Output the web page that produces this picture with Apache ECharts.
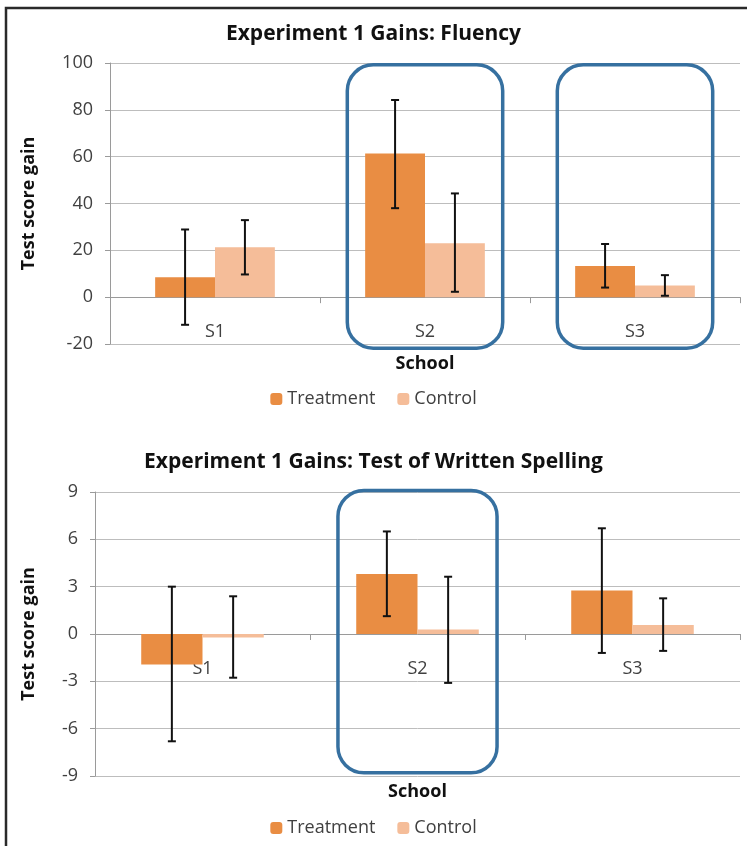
<!DOCTYPE html>
<html><head><meta charset="utf-8">
<script src="https://cdn.jsdelivr.net/npm/echarts@6/dist/echarts.min.js"></script>
<style>html,body{margin:0;padding:0;background:#fff}#c{width:747px;height:846px}</style>
</head><body><div id="c"></div>
<script>
const schools = ['S1', 'S2', 'S3'];
const fluencyTreatment = [8.5, 61.4, 13.3];
const fluencyControl = [21.3, 23.0, 5.0];
const fluencyTreatmentErr = [[-11.8, 28.9], [38.0, 84.2], [4.1, 22.7]];
const fluencyControlErr = [[9.7, 32.9], [2.3, 44.3], [0.6, 9.4]];
const spellingTreatment = [-1.93, 3.8, 2.75];
const spellingControl = [-0.22, 0.28, 0.57];
const spellingTreatmentErr = [[-6.8, 3.0], [1.13, 6.5], [-1.2, 6.7]];
const spellingControlErr = [[-2.77, 2.39], [-3.1, 3.63], [-1.07, 2.26]];
const fluencyTicks = [-20, 0, 20, 40, 60, 80, 100];
const spellingTicks = [-9, -6, -3, 0, 3, 6, 9];

const cTreat = '#E98D43', cCtrl = '#F5BD99';
const FONT = 'Open Sans';
const GAP = 0.43;

function errSeries(name, data, xi, side) {
  return {
    type: 'custom', name: name, xAxisIndex: xi, yAxisIndex: xi, z: 5,
    data: data.map((d, i) => [i, d[0], d[1]]),
    renderItem: function (params, api) {
      const band = api.size([1, 0])[0];
      const off = side * band * (1 - GAP) / 4;
      const lo = api.coord([api.value(0), api.value(1)]);
      const hi = api.coord([api.value(0), api.value(2)]);
      const x = lo[0] + off, cap = 4;
      const st = { stroke: '#111', lineWidth: 2 };
      return { type: 'group', children: [
        { type: 'line', shape: { x1: x, y1: lo[1], x2: x, y2: hi[1] }, style: st },
        { type: 'line', shape: { x1: x - cap, y1: lo[1], x2: x + cap, y2: lo[1] }, style: st },
        { type: 'line', shape: { x1: x - cap, y1: hi[1], x2: x + cap, y2: hi[1] }, style: st }
      ] };
    }
  };
}

function xAx(gi, gap) {
  return {
    type: 'category', gridIndex: gi, data: schools,
    name: 'School', nameLocation: 'middle', nameGap: gap, nameMoveOverlap: false,
    nameTextStyle: { fontFamily: FONT, fontWeight: 'bold', fontSize: 18, color: '#111' },
    axisLine: { onZero: true, lineStyle: { color: '#9a9a9a', width: 1 } },
    axisTick: { show: true, length: 6, lineStyle: { color: '#9a9a9a' } },
    axisLabel: { margin: 26, fontFamily: FONT, fontSize: 18, color: '#404040' },
    splitLine: { show: false }
  };
}
function yAx(gi, ticks, gap) {
  const step = ticks[1] - ticks[0];
  return {
    type: 'value', gridIndex: gi, min: ticks[0], max: ticks[ticks.length - 1], interval: step,
    name: 'Test score gain', nameLocation: 'middle', nameGap: gap, nameRotate: 90, nameMoveOverlap: false,
    nameTextStyle: { fontFamily: FONT, fontWeight: 'bold', fontSize: 18, color: '#111' },
    axisLine: { show: true, lineStyle: { color: '#9a9a9a' } },
    axisTick: { show: true, length: 5, lineStyle: { color: '#9a9a9a' } },
    axisLabel: { margin: 17, fontFamily: FONT, fontSize: 18, color: '#404040' },
    splitLine: { lineStyle: { color: '#bdbdbd', width: 1 } }
  };
}

const chart = echarts.init(document.getElementById('c'));
chart.setOption({
  animation: false,
  backgroundColor: '#fff',
  title: [
    { text: 'Experiment 1 Gains: Fluency', left: 'center', top: 19,
      textStyle: { fontFamily: FONT, fontWeight: 'bold', fontSize: 21, color: '#111' } },
    { text: 'Experiment 1 Gains: Test of Written Spelling', left: 'center', top: 447,
      textStyle: { fontFamily: FONT, fontWeight: 'bold', fontSize: 21, color: '#111' } }
  ],
  legend: [
    { top: 385, left: 'center', itemWidth: 12, itemHeight: 12, itemGap: 22, data: ['Treatment', 'Control'],
      textStyle: { fontFamily: FONT, fontSize: 18, color: '#404040' } },
    { top: 814, left: 'center', itemWidth: 12, itemHeight: 12, itemGap: 22, data: ['Treatment', 'Control'],
      textStyle: { fontFamily: FONT, fontSize: 18, color: '#404040' } }
  ],
  grid: [
    { left: 110, right: 7, top: 63, height: 281, outerBoundsMode: 'none', containLabel: false },
    { left: 95, right: 7, top: 492, height: 284, outerBoundsMode: 'none', containLabel: false }
  ],
  xAxis: [xAx(0, 11), xAx(1, 7)],
  yAxis: [yAx(0, fluencyTicks, 72), yAx(1, spellingTicks, 57)],
  series: [
    { type: 'bar', name: 'Treatment', xAxisIndex: 0, yAxisIndex: 0, data: fluencyTreatment,
      itemStyle: { color: cTreat }, barGap: '0%', barCategoryGap: (GAP * 100) + '%' },
    { type: 'bar', name: 'Control', xAxisIndex: 0, yAxisIndex: 0, data: fluencyControl,
      itemStyle: { color: cCtrl }, barGap: '0%', barCategoryGap: (GAP * 100) + '%' },
    { type: 'bar', name: 'Treatment', xAxisIndex: 1, yAxisIndex: 1, data: spellingTreatment,
      itemStyle: { color: cTreat }, barGap: '0%', barCategoryGap: (GAP * 100) + '%' },
    { type: 'bar', name: 'Control', xAxisIndex: 1, yAxisIndex: 1, data: spellingControl,
      itemStyle: { color: cCtrl }, barGap: '0%', barCategoryGap: (GAP * 100) + '%' },
    errSeries('errFT', fluencyTreatmentErr, 0, -1),
    errSeries('errFC', fluencyControlErr, 0, 1),
    errSeries('errST', spellingTreatmentErr, 1, -1),
    errSeries('errSC', spellingControlErr, 1, 1)
  ]
});

// category labels sit just below the zero line (like the original)
const tickSets = [fluencyTicks, spellingTicks];
const xUpd = [0, 1].map(gi => {
  const zeroPx = chart.convertToPixel({ yAxisIndex: gi }, 0);
  const bottomPx = chart.convertToPixel({ yAxisIndex: gi }, tickSets[gi][0]);
  return { axisLabel: { margin: 26 - (bottomPx - zeroPx) } };
});

// highlight boxes around selected schools
const highlights = [
  { grid: 0, cat: 1, top: 99.2, bottom: -21.8 },
  { grid: 0, cat: 2, top: 99.2, bottom: -21.8 },
  { grid: 1, cat: 1, top: 9.1, bottom: -8.8 }
];
const gfx = [];
highlights.forEach(h => {
  const c = chart.convertToPixel({ xAxisIndex: h.grid }, h.cat);
  const c0 = chart.convertToPixel({ xAxisIndex: h.grid }, 0);
  const c1 = chart.convertToPixel({ xAxisIndex: h.grid }, 1);
  const band = c1 - c0;
  const yt = chart.convertToPixel({ yAxisIndex: h.grid }, h.top);
  const yb = chart.convertToPixel({ yAxisIndex: h.grid }, h.bottom);
  const halfW = band * 0.37;
  gfx.push({ type: 'rect', z: 10, shape: { x: c - halfW, y: yt, width: halfW * 2, height: yb - yt, r: 26 },
    style: { fill: 'none', stroke: '#3670A0', lineWidth: 3.5 } });
});
gfx.push({ type: 'polyline', z: 10, shape: { points: [[6, 846], [6, 8], [747, 8]] },
  style: { fill: 'none', stroke: '#2a2a2a', lineWidth: 2.5 } });
chart.setOption({ xAxis: xUpd, graphic: gfx });
</script></body></html>
